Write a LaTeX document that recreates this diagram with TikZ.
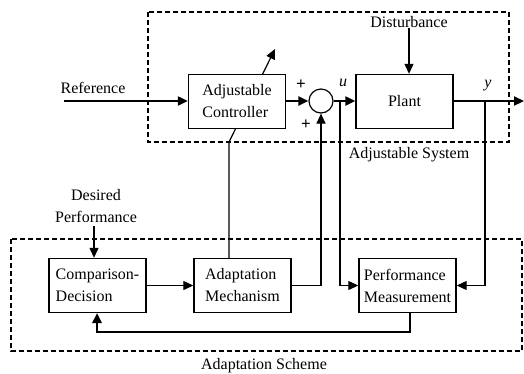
\documentclass[tikz,border=0pt]{standalone}
\usepackage{fontspec}
\setmainfont{Liberation Serif}
\usetikzlibrary{arrows.meta,backgrounds}
\begin{document}
\begin{tikzpicture}[x=1pt,y=-1pt,
  font=\fontsize{16}{22}\selectfont,
  blk/.style={draw,line width=1.4pt,fill=white,minimum width=97pt,minimum height=54pt,align=left,inner sep=0pt},
  sumnode/.style={draw,circle,line width=1.2pt,fill=white,minimum size=24pt,inner sep=0pt},
  lbl/.style={inner sep=0pt,align=center},
  frame/.style={line width=1.5pt,dash pattern=on 5pt off 3pt},
  tip/.style={-{Triangle[length=10pt,width=9pt]}},
  thick arr/.style={tip,line width=2.2pt},
  thin arr/.style={tip,line width=1.2pt},
  wire/.style={line width=1.2pt}]
\useasboundingbox (0,0) rectangle (524,373);

% dashed frames
\draw[frame] (148,12) rectangle (509,142);
\draw[frame] (11,239) rectangle (522,351);

% blocks
\node[blk] (ctrl) at (237,101.5) {Adjustable\\Controller};
\node[blk] (plant) at (404.5,101.5) {Plant};
\node[sumnode] (sum) at (321,101) {};
\node[blk] (cd) at (97.5,285.5) {Comparison-\\Decision};
\node[blk] (am) at (242.5,285.5) {Adaptation\\Mechanism};
\node[blk] (pm) at (407.5,285.5) {Performance\\Measurement};

% texts
\node[lbl] (reftxt) at (93,88) {Reference};
\node[lbl] (dist) at (409,22) {Disturbance};
\node[lbl] (adjsys) at (409,155) {Adjustable System};
\node[lbl] (adsch) at (264,366) {Adaptation Scheme};
\node[lbl] (desired) at (96,206) {Desired\\Performance};
\node[lbl,font=\fontsize{17}{17}\bfseries] (p1) at (301,85) {+};
\node[lbl,font=\fontsize{17}{17}\bfseries] (p2) at (306,125) {+};
\node[lbl] (ulbl) at (343,83) {\itshape u};
\node[lbl] (ylbl) at (488,86) {\itshape y};

% free ends and branch points
\coordinate (refin) at (64,101);
\coordinate (yout) at (524,101);
\coordinate (utap) at (340,101);
\coordinate (ytap) at (485,101);
\coordinate (kink) at (229,142);
\coordinate (adjtip) at (275,49);
\coordinate (dp) at (94,226);

% adjustment line passing behind the controller
\begin{scope}[on background layer]
\draw[thin arr] (kink |- am.north) -- (kink) -- (adjtip);
\end{scope}

% forward path
\draw[thick arr] (refin) -- (ctrl.west |- refin);
\draw[thick arr] (ctrl.east |- sum) -- (sum.west);
\draw[thick arr] (sum.east) -- (plant.west |- sum);
\draw[thick arr] (plant.east |- yout) -- (yout);
\draw[thin arr] (dist.south -| 409,0) -- (plant.north -| 409,0);

% measurement taps
\draw[thin arr] (utap) |- (pm.west);
\draw[thin arr] (ytap) |- (pm.east);

% adaptation loop
\draw[thin arr] (am.east) -| (sum.south);
\draw[thin arr] (cd.east) -- (am.west);
\draw[thin arr] (dp) -- (dp |- cd.north);
\draw[tip,line width=2.4pt] (410,313) -- (410,332) -| (97,313);
\end{tikzpicture}
\end{document}
